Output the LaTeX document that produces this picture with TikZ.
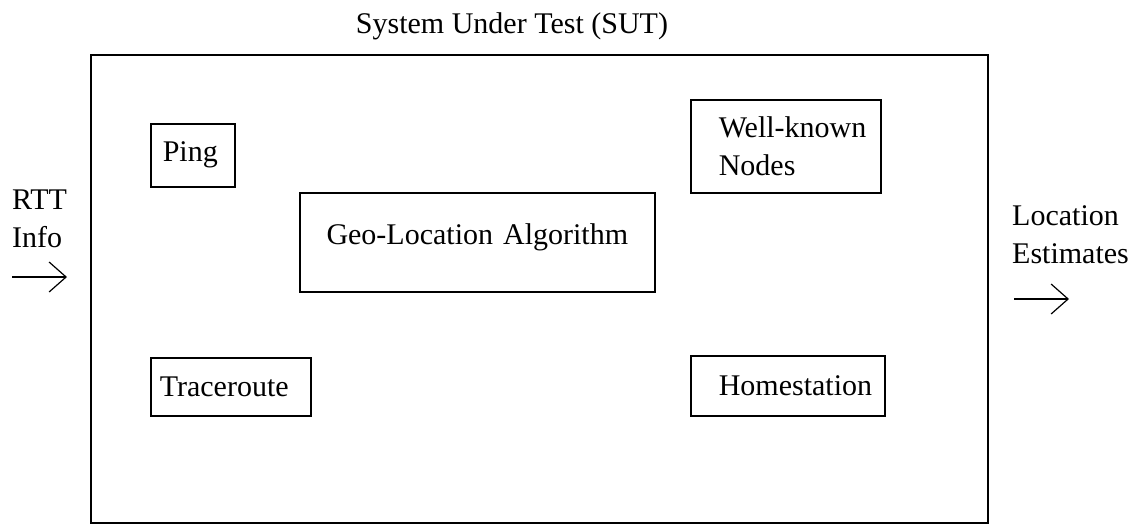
\documentclass[tikz,border=0pt]{standalone}
\usepackage{fontspec}
\setmainfont{Liberation Serif}
\usetikzlibrary{arrows.meta}

\tikzset{%
  label/.style={inner sep=0pt, align=left, font=\fontsize{30}{38}\selectfont},%
  unit/.style={draw, line width=1.6pt, anchor=north west, inner ysep=0pt, align=left, font=\fontsize{30}{38}\selectfont},%
  flow/.style={line width=1.2pt, -{Straight Barb[length=17pt, width=30pt, line width=1.2pt]}}%
}

\begin{document}
\begin{tikzpicture}[x=1pt, y=-1pt]%
\useasboundingbox (0, 0) rectangle (1133, 523);%
% system frame and its title
\node[draw, line width=1.6pt, anchor=north west, inner sep=0pt, minimum width=897pt, minimum height=468pt] (sut) at (90, 54) {};%
\node[label, anchor=base] (title) at (512, 33) {System Under Test (SUT)};%
% units inside the system
\node[unit, inner xsep=12pt, text width=60pt, minimum height=63pt] (ping) at (150, 123) {Ping};%
\node[unit, inner xsep=12pt, text width=331pt, align=center, minimum height=99pt, text depth=17pt] (geo) at (299, 192) {Geo-Location Algorithm};%
\node[unit, inner xsep=28pt, text width=134pt, minimum height=93pt] (known) at (690, 99) {\mbox{Well-known}\\Nodes};%
\node[unit, inner xsep=9pt, text width=142pt, minimum height=58pt] (trace) at (150, 357) {Traceroute};%
\node[unit, inner xsep=28pt, text width=138pt, minimum height=60pt] (home) at (690, 355) {Homestation};%
% input and output
\node[label, anchor=base west] (rtt) at (12, 247) {RTT\\Info};%
\coordinate (rttA) at (12, 277);%
\coordinate (rttB) at (67, 277);%
\draw[flow] (rttA) -- (rttB);%
\node[label, anchor=base west] (estim) at (1012, 263) {Location\\Estimates};%
\coordinate (estimA) at (1014, 299);%
\coordinate (estimB) at (1069, 299);%
\draw[flow] (estimA) -- (estimB);%
\end{tikzpicture}
\end{document}
